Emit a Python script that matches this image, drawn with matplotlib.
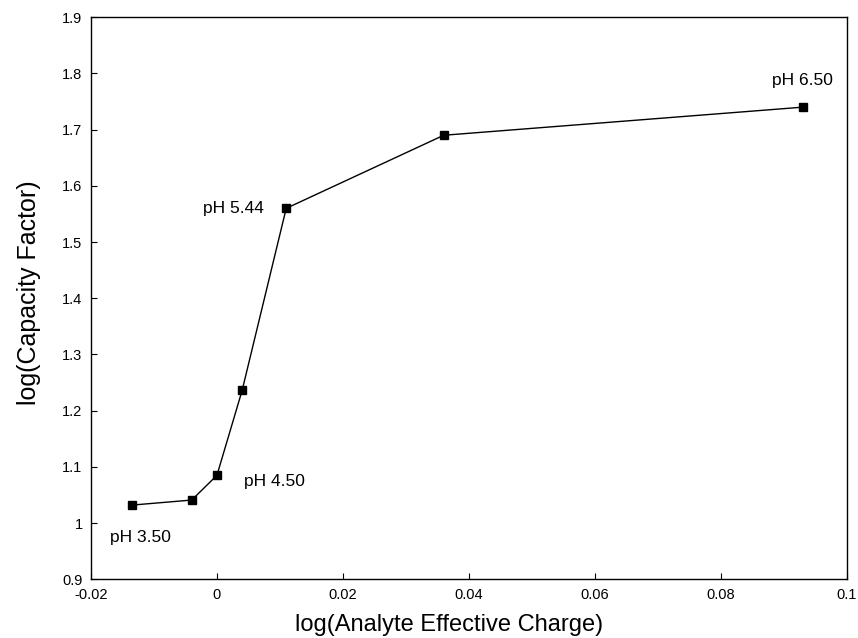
import matplotlib
matplotlib.use("Agg")
import matplotlib.pyplot as plt

# data
charge = [-0.0135, -0.004, 0.0, 0.004, 0.011, 0.036, 0.093]
capacity = [1.032, 1.041, 1.085, 1.236, 1.56, 1.69, 1.74]

labels = ["pH 3.50", "pH 4.50", "pH 5.44", "pH 6.50"]
label_x = [-0.0122, 0.0092, 0.0075, 0.093]
label_y = [0.975, 1.074, 1.56, 1.787]
label_ha = ["center", "center", "right", "center"]

xticks = [-0.02, 0, 0.02, 0.04, 0.06, 0.08, 0.1]
xticklabels = ["-0.02", "0", "0.02", "0.04", "0.06", "0.08", "0.1"]
yticks = [0.9, 1.0, 1.1, 1.2, 1.3, 1.4, 1.5, 1.6, 1.7, 1.8, 1.9]
yticklabels = ["0.9", "1", "1.1", "1.2", "1.3", "1.4", "1.5", "1.6", "1.7", "1.8", "1.9"]

plt.rcParams["font.family"] = ["Liberation Sans", "DejaVu Sans"]

fig = plt.figure(figsize=(8.58, 6.38), dpi=100)
ax = fig.add_axes([0.106, 0.092, 0.881, 0.881])

ax.plot(charge, capacity, "-", color="black", lw=1.0,
        marker="s", markersize=6, markerfacecolor="black", markeredgecolor="black")

for t, x, y, ha in zip(labels, label_x, label_y, label_ha):
    ax.text(x, y, t, ha=ha, va="center", fontsize=12.5, color="black")

ax.set_xlim(-0.02, 0.1)
ax.set_ylim(0.9, 1.9)
ax.set_xticks(xticks)
ax.set_xticklabels(xticklabels)
ax.set_yticks(yticks)
ax.set_yticklabels(yticklabels)
ax.tick_params(direction="in", length=4, width=0.8, labelsize=10.5, pad=6)

for s in ax.spines.values():
    s.set_linewidth(1.0)

ax.set_xlabel("log(Analyte Effective Charge)", fontsize=17)
ax.xaxis.set_label_coords(0.474, -0.062)
ax.set_ylabel("log(Capacity Factor)", fontsize=18)
ax.yaxis.set_label_coords(-0.066, 0.51)

fig.savefig("out.png", dpi=100)
